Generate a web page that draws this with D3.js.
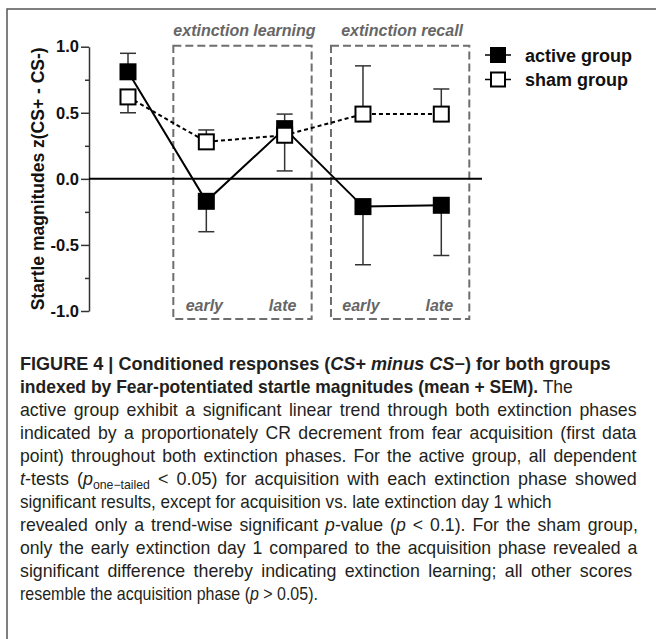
<!DOCTYPE html>
<html><head><meta charset="utf-8">
<script src="https://cdn.jsdelivr.net/npm/d3@7"></script>
<style>body{margin:0;background:#fff} svg{display:block}</style>
</head><body>
<svg id="c" width="656" height="639"></svg>
<script>
// ---- data ----
const categories = ["acquisition", "early", "late", "early", "late"];
const phaseLabels = ["extinction learning", "extinction recall"];
const seriesNames = ["active group", "sham group"];
const activeMean = [0.81, -0.17, 0.38, -0.21, -0.20];
const activeSEM  = [0.14, 0.23, 0.11, 0.44, 0.38];
const activeDir  = [1, -1, 1, -1, -1];
const shamMean   = [0.62, 0.28, 0.33, 0.49, 0.49];
const shamSEM    = [0.12, 0.09, 0.27, 0.365, 0.19];
const shamDir    = [-1, 1, -1, 1, 1];
const yTicksMajor = [-1, -0.5, 0, 0.5, 1];
const yTicksMinor = [-0.75, -0.25, 0.25, 0.75];
const yLabel = "Startle magnitudes z(CS+ - CS-)";

const B = "b", I = "i", BI = "bi", R = "r", SUB = "sub";
const caption = [
  [["FIGURE 4 | Conditioned responses (", B], ["CS", BI], ["+ ", B], ["minus CS", BI], ["−) for both groups", B]],
  [["indexed by Fear-potentiated startle magnitudes (mean + SEM).", B], [" The", R]],
  [["active group exhibit a significant linear trend through both extinction phases", R]],
  [["indicated by a proportionately CR decrement from fear acquisition (first data", R]],
  [["point) throughout both extinction phases. For the active group, all dependent", R]],
  [["t", I], ["-tests (", R], ["p", I], ["one−tailed", SUB], [" < 0.05) for acquisition with each extinction phase showed", R]],
  [["significant results, except for acquisition vs. late extinction day 1 which", R]],
  [["revealed only a trend-wise significant ", R], ["p", I], ["-value (", R], ["p", I], [" < 0.1). For the sham group,", R]],
  [["only the early extinction day 1 compared to the acquisition phase revealed a", R]],
  [["significant difference thereby indicating extinction learning; all other scores", R]],
  [["resemble the acquisition phase (", R], ["p", I], [" > 0.05).", R]]
];

// ---- layout ----
const svg = d3.select("#c");
const x = d3.scaleLinear().domain([0, 4]).range([128, 441.3]);
const y = d3.scaleLinear().domain([-1, 1]).range([311, 46.7]);
const F = "'Liberation Sans', Arial, Helvetica, sans-serif";

// frame
svg.append("path").attr("d", "M7,639V9H656").attr("fill", "none")
  .attr("stroke", "#555").attr("stroke-width", 1.5);

// phase boxes
const boxes = [
  {x0: x(1) - 33, x1: x(2) + 27, label: phaseLabels[0]},
  {x0: x(3) - 32, x1: x(4) + 28, label: phaseLabels[1]}
];
boxes.forEach(b => {
  svg.append("rect").attr("x", b.x0).attr("y", y(1) - 1)
    .attr("width", b.x1 - b.x0).attr("height", 319 - (y(1) - 1))
    .attr("fill", "none").attr("stroke", "#6e6e6e").attr("stroke-width", 2)
    .attr("stroke-dasharray", "8,4");
  svg.append("text").attr("x", (b.x0 + b.x1) / 2 + 2).attr("y", 36)
    .attr("text-anchor", "middle").attr("font-family", F).attr("font-size", 16)
    .attr("font-weight", "bold").attr("font-style", "italic").attr("fill", "#666")
    .text(b.label);
});
categories.forEach((c, i) => {
  if (i === 0) return;
  svg.append("text").attr("x", x(i) - 2).attr("y", 311)
    .attr("text-anchor", "middle").attr("font-family", F).attr("font-size", 16)
    .attr("font-weight", "bold").attr("font-style", "italic").attr("fill", "#666")
    .text(c);
});

// axis
const fmt = d => d3.format(".1f")(d).replace("−", "-");
const ax = svg.append("g").attr("transform", "translate(89,0)")
  .call(d3.axisLeft(y).tickValues(yTicksMajor).tickSize(8).tickPadding(2)
    .tickSizeOuter(0).tickFormat(fmt));
ax.select(".domain").attr("stroke", "#333").attr("stroke-width", 1.5);
ax.selectAll(".tick line").attr("stroke", "#333").attr("stroke-width", 1.5);
ax.selectAll(".tick text").attr("font-family", F).attr("font-size", 16.5)
  .attr("font-weight", "bold").attr("fill", "#111");
const axm = svg.append("g").attr("transform", "translate(89,0)")
  .call(d3.axisLeft(y).tickValues(yTicksMinor).tickSize(4).tickFormat(""));
axm.select(".domain").remove();
axm.selectAll(".tick line").attr("stroke", "#333").attr("stroke-width", 1.5);

svg.append("text").attr("transform", `translate(44,${(y(1) + y(-1)) / 2}) rotate(-90)`)
  .attr("text-anchor", "middle").attr("font-family", F).attr("font-size", 17.5)
  .attr("font-weight", "bold").attr("fill", "#111").text(yLabel);

// zero line
svg.append("line").attr("x1", 89).attr("x2", 482).attr("y1", y(0)).attr("y2", y(0))
  .attr("stroke", "#000").attr("stroke-width", 2);

// error bars
function errBars(mean, sem, dir) {
  mean.forEach((m, i) => {
    const e = y(m + dir[i] * sem[i]);
    svg.append("line").attr("x1", x(i)).attr("x2", x(i)).attr("y1", y(m)).attr("y2", e)
      .attr("stroke", "#333").attr("stroke-width", 1.5);
    svg.append("line").attr("x1", x(i) - 8).attr("x2", x(i) + 8).attr("y1", e).attr("y2", e)
      .attr("stroke", "#333").attr("stroke-width", 1.5);
  });
}
errBars(activeMean, activeSEM, activeDir);
errBars(shamMean, shamSEM, shamDir);

const line = d3.line().x((d, i) => x(i)).y(d => y(d));
svg.append("path").attr("d", line(shamMean)).attr("fill", "none")
  .attr("stroke", "#000").attr("stroke-width", 2).attr("stroke-dasharray", "4,3");
svg.append("path").attr("d", line(activeMean)).attr("fill", "none")
  .attr("stroke", "#000").attr("stroke-width", 2);

svg.selectAll(".ma").data(activeMean).enter().append("rect")
  .attr("x", (d, i) => x(i) - 8.5).attr("y", d => y(d) - 8.5)
  .attr("width", 17).attr("height", 17).attr("fill", "#000");
svg.selectAll(".ms").data(shamMean).enter().append("rect")
  .attr("x", (d, i) => x(i) - 7.5).attr("y", d => y(d) - 7.5)
  .attr("width", 15).attr("height", 15).attr("fill", "#fff")
  .attr("stroke", "#000").attr("stroke-width", 2);

// legend
seriesNames.forEach((n, k) => {
  const ly = 55 + k * 24.5;
  svg.append("line").attr("x1", 485).attr("x2", 511).attr("y1", ly).attr("y2", ly)
    .attr("stroke", "#000").attr("stroke-width", 1.5);
  if (k === 0) {
    svg.append("rect").attr("x", 490).attr("y", ly - 8).attr("width", 16).attr("height", 16).attr("fill", "#000");
  } else {
    svg.append("rect").attr("x", 491).attr("y", ly - 7).attr("width", 14).attr("height", 14)
      .attr("fill", "#fff").attr("stroke", "#000").attr("stroke-width", 2);
  }
  svg.append("text").attr("x", 525).attr("y", ly + 6.5).attr("font-family", F)
    .attr("font-size", 18).attr("font-weight", "bold").attr("fill", "#111").text(n);
});

// caption: condensed (horizontally scaled) text; justified lines get some extra word spacing
const CF = "'Liberation Sans', Arial, Helvetica, sans-serif";
const X0 = 20;
const ends = [611, 573, 637, 637, 637, 637, 552, 638, 638, 633, 318];
const justified = [false, false, true, true, true, true, false, true, true, true, false];
const made = caption.map((segs, li) => {
  const g = svg.append("g");
  const t = g.append("text").attr("x", 0).attr("y", 0)
    .attr("font-family", CF).attr("font-size", 17.5).attr("fill", "#231f20");
  let shifted = false, spaces = 0;
  segs.forEach(([s, st]) => {
    const ts = t.append("tspan").text(s);
    spaces += (s.match(/ /g) || []).length;
    if (st === B || st === BI) ts.attr("font-weight", "bold");
    if (st === I || st === BI) ts.attr("font-style", "italic");
    if (st === SUB) { ts.attr("font-size", 12).attr("dy", 4); shifted = true; }
    else if (shifted) { ts.attr("dy", -4); shifted = false; }
  });
  return {g, t, w: t.node().getComputedTextLength(), spaces};
});
const sReg = ((ends[6] - X0) / made[6].w + (ends[10] - X0) / made[10].w) / 2;
made.forEach((m, li) => {
  const sFit = (ends[li] - X0) / m.w;
  let s = sFit;
  if (justified[li] && sFit > sReg) {
    s = sReg * 0.4 + sFit * 0.6;
    const ws = ((ends[li] - X0) / s - m.w) / m.spaces;
    m.t.attr("word-spacing", ws);
  }
  m.g.attr("transform", `translate(${X0},${370 + li * 23}) scale(${s},1)`);
});
</script>
</body></html>
